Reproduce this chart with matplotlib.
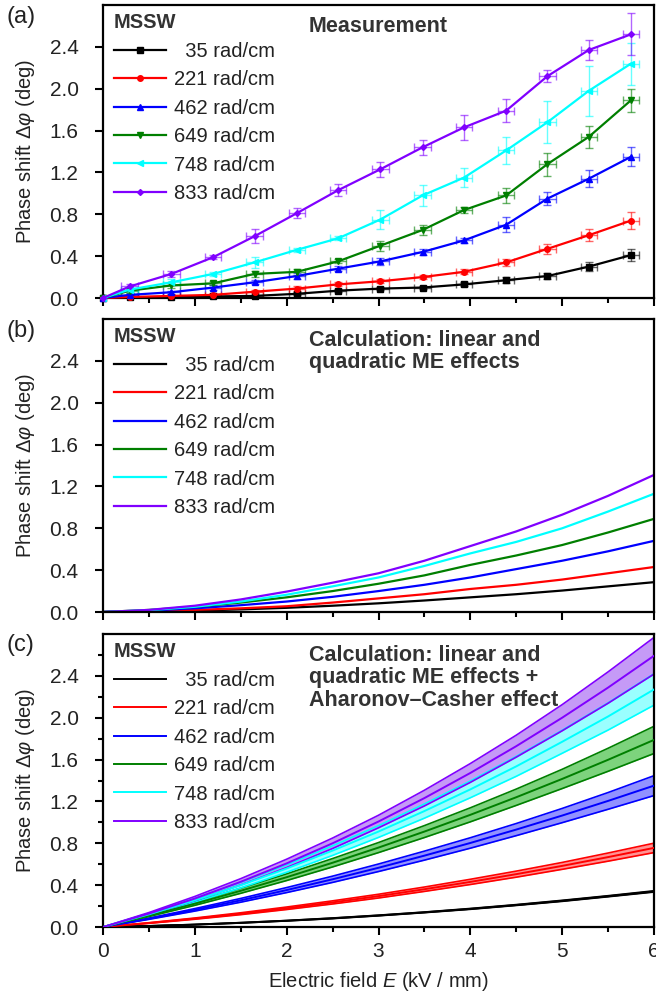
import matplotlib
matplotlib.use("Agg")
import matplotlib.pyplot as plt
import numpy as np

plt.rcParams['font.family'] = ['Liberation Sans', 'DejaVu Sans']
plt.rcParams['mathtext.fontset'] = 'custom'
plt.rcParams['mathtext.rm'] = 'Liberation Sans'
plt.rcParams['mathtext.it'] = 'Liberation Sans:italic'

# ---------------- data ----------------
labels = ["  35 rad/cm", "221 rad/cm", "462 rad/cm", "649 rad/cm", "748 rad/cm", "833 rad/cm"]
colors = ["#000000", "#ff0000", "#0000ff", "#007f00", "#00ffff", "#8000ff"]
fills = ["#808080", "#ff8080", "#7f7fff", "#66cc66", "#88ffff", "#bb88f5"]
markers = ["s", "o", "^", "v", "<", "D"]

# (a) measurement
E_meas = [0, 0.29, 0.745, 1.2, 1.65, 2.11, 2.56, 3.02, 3.48, 3.93, 4.39, 4.84, 5.29, 5.75]
meas_35 = [0, 0.005, 0.01, 0.015, 0.02, 0.04, 0.07, 0.09, 0.10, 0.13, 0.17, 0.21, 0.30, 0.41]
meas_221 = [0, 0.01, 0.02, 0.03, 0.06, 0.09, 0.13, 0.16, 0.20, 0.25, 0.34, 0.47, 0.60, 0.74]
meas_462 = [0, 0.03, 0.055, 0.10, 0.15, 0.21, 0.28, 0.35, 0.44, 0.55, 0.70, 0.95, 1.14, 1.35]
meas_649 = [0, 0.07, 0.12, 0.14, 0.23, 0.25, 0.35, 0.50, 0.65, 0.84, 0.98, 1.28, 1.54, 1.89]
meas_748 = [0, 0.08, 0.15, 0.23, 0.34, 0.46, 0.57, 0.75, 0.98, 1.15, 1.41, 1.68, 1.98, 2.24]
meas_833 = [0, 0.11, 0.23, 0.39, 0.59, 0.81, 1.03, 1.23, 1.44, 1.63, 1.79, 2.12, 2.37, 2.52]
err_35 = [0, 0.01, 0.01, 0.01, 0.01, 0.015, 0.015, 0.015, 0.015, 0.02, 0.03, 0.025, 0.04, 0.06]
err_221 = [0, 0.01, 0.01, 0.015, 0.015, 0.02, 0.02, 0.02, 0.02, 0.025, 0.03, 0.05, 0.055, 0.08]
err_462 = [0, 0.015, 0.015, 0.02, 0.02, 0.025, 0.025, 0.03, 0.03, 0.02, 0.07, 0.06, 0.08, 0.09]
err_649 = [0, 0.02, 0.02, 0.02, 0.03, 0.03, 0.02, 0.048, 0.048, 0.03, 0.07, 0.11, 0.107, 0.11]
err_748 = [0, 0.02, 0.03, 0.02, 0.056, 0.02, 0.02, 0.09, 0.10, 0.09, 0.13, 0.20, 0.24, 0.20]
err_833 = [0, 0.02, 0.03, 0.02, 0.067, 0.048, 0.056, 0.069, 0.072, 0.118, 0.11, 0.06, 0.10, 0.20]
xerr_meas = [0, 0.09, 0.09, 0.09, 0.09, 0.09, 0.09, 0.09, 0.09, 0.09, 0.09, 0.09, 0.09, 0.09]

# (b) calculation: linear + quadratic ME
E_calc = [0, 0.5, 1, 1.5, 2, 2.5, 3, 3.5, 4, 4.5, 5, 5.5, 6]
b_35 = [0, 0.005, 0.013, 0.025, 0.04, 0.06, 0.083, 0.11, 0.14, 0.17, 0.205, 0.245, 0.285]
b_221 = [0, 0.008, 0.02, 0.035, 0.055, 0.09, 0.13, 0.17, 0.22, 0.26, 0.31, 0.37, 0.43]
b_462 = [0, 0.013, 0.035, 0.065, 0.10, 0.145, 0.20, 0.26, 0.33, 0.41, 0.49, 0.58, 0.68]
b_649 = [0, 0.02, 0.05, 0.09, 0.14, 0.20, 0.27, 0.35, 0.45, 0.54, 0.64, 0.76, 0.89]
b_748 = [0, 0.017, 0.05, 0.10, 0.165, 0.245, 0.33, 0.44, 0.56, 0.67, 0.80, 0.96, 1.13]
b_833 = [0, 0.02, 0.06, 0.12, 0.195, 0.28, 0.37, 0.49, 0.63, 0.77, 0.93, 1.11, 1.31]

# (c) calculation incl. Aharonov-Casher: centre and half-width of band
c_35 = [0, 0.01, 0.023, 0.04, 0.06, 0.083, 0.11, 0.14, 0.173, 0.21, 0.25, 0.294, 0.34]
c_221 = [0, 0.038, 0.08, 0.127, 0.179, 0.235, 0.295, 0.361, 0.431, 0.505, 0.584, 0.668, 0.756]
c_462 = [0, 0.079, 0.164, 0.255, 0.353, 0.456, 0.566, 0.682, 0.803, 0.931, 1.065, 1.205, 1.351]
c_649 = [0, 0.108, 0.223, 0.346, 0.476, 0.614, 0.759, 0.912, 1.072, 1.24, 1.415, 1.598, 1.788]
c_748 = [0, 0.121, 0.255, 0.40, 0.559, 0.73, 0.912, 1.108, 1.315, 1.535, 1.77, 2.012, 2.27]
c_833 = [0, 0.128, 0.272, 0.432, 0.608, 0.80, 1.008, 1.232, 1.472, 1.728, 2.0, 2.288, 2.592]
hw_35 = [0, 0.001, 0.001, 0.002, 0.002, 0.003, 0.003, 0.003, 0.004, 0.004, 0.005, 0.005, 0.006]
hw_221 = [0, 0.003, 0.006, 0.009, 0.012, 0.015, 0.018, 0.021, 0.025, 0.029, 0.033, 0.039, 0.045]
hw_462 = [0, 0.006, 0.012, 0.018, 0.024, 0.03, 0.036, 0.043, 0.05, 0.058, 0.068, 0.08, 0.095]
hw_649 = [0, 0.008, 0.016, 0.024, 0.032, 0.04, 0.048, 0.057, 0.067, 0.078, 0.092, 0.11, 0.13]
hw_748 = [0, 0.01, 0.018, 0.027, 0.036, 0.046, 0.056, 0.068, 0.08, 0.095, 0.11, 0.13, 0.15]
hw_833 = [0, 0.01, 0.02, 0.03, 0.04, 0.05, 0.06, 0.075, 0.09, 0.105, 0.125, 0.15, 0.175]

meas = [meas_35, meas_221, meas_462, meas_649, meas_748, meas_833]
errs = [err_35, err_221, err_462, err_649, err_748, err_833]
calc_b = [b_35, b_221, b_462, b_649, b_748, b_833]
calc_c = [c_35, c_221, c_462, c_649, c_748, c_833]
half_c = [hw_35, hw_221, hw_462, hw_649, hw_748, hw_833]

ytick_vals = [0.0, 0.4, 0.8, 1.2, 1.6, 2.0, 2.4]
xtick_vals = [0, 1, 2, 3, 4, 5, 6]

# ---------------- figure ----------------
fig = plt.figure(figsize=(6.56, 9.96), dpi=100)
L, W = 103 / 656, 551 / 656
H = 293 / 996
axA = fig.add_axes([L, 1 - 298 / 996, W, H])
axB = fig.add_axes([L, 1 - 612 / 996, W, H])
axC = fig.add_axes([L, 1 - 927 / 996, W, H])

txtc = '#222222'
FS = 14.5
for ax in (axA, axB, axC):
    ax.set_xlim(0, 6)
    ax.set_ylim(0, 2.8)
    ax.set_xticks(xtick_vals)
    ax.set_xticks(np.arange(0.5, 6, 1.0), minor=True)
    ax.set_yticks(ytick_vals)
    ax.set_yticklabels([f"{v:.1f}" for v in ytick_vals])
    ax.tick_params(axis='both', which='major', direction='out', length=5.5, width=1.5,
                   labelsize=FS + 0.5, colors='black', labelcolor=txtc)
    ax.tick_params(axis='y', which='major', pad=12)
    ax.tick_params(axis='x', which='major', pad=5)
    ax.tick_params(axis='both', which='minor', direction='out', length=3.5, width=1.5)
    for s in ax.spines.values():
        s.set_linewidth(1.6)
    ax.set_ylabel(r'Phase shift $\Delta\varphi$ (deg)', fontsize=FS, color=txtc, labelpad=9)
axA.tick_params(labelbottom=False)
axB.tick_params(labelbottom=False)
axC.set_yticks(np.arange(0.2, 2.8, 0.4), minor=True)
axC.set_xticklabels([str(v) for v in xtick_vals])
axC.set_xlabel(r'Electric field $E$ (kV / mm)', fontsize=FS, color=txtc, labelpad=7)

# (a)
for y, e, c, m, lab in zip(meas, errs, colors, markers, labels):
    axA.errorbar(E_meas, y, yerr=e, xerr=xerr_meas, fmt='none', ecolor=c, alpha=0.6,
                 elinewidth=1.0, capsize=3, capthick=1.0, zorder=2)
    axA.plot(E_meas, y, color=c, lw=1.6, marker=m, ms=4 if m != 'D' else 3,
             label=lab, zorder=3, clip_on=False)

# (b)
for y, c, lab in zip(calc_b, colors, labels):
    axB.plot(E_calc, y, color=c, lw=1.6, label=lab)

# (c)
for y, hw, c, fc, lab in zip(calc_c, half_c, colors, fills, labels):
    y = np.array(y); hw = np.array(hw)
    axC.fill_between(E_calc, y - hw, y + hw, color=fc, alpha=0.85, lw=0, zorder=1)
    axC.plot(E_calc, y - hw, color=c, lw=1.2, zorder=2)
    axC.plot(E_calc, y + hw, color=c, lw=1.2, zorder=2)
    axC.plot(E_calc, y, color=c, lw=1.4, label=lab, zorder=3)

for ax in (axA, axB, axC):
    leg = ax.legend(title='MSSW', loc='upper left', bbox_to_anchor=(0.02, 0.972),
                    frameon=False, fontsize=FS, alignment='left',
                    title_fontproperties={'weight': 'bold', 'size': FS},
                    handlelength=2.6, handletextpad=0.4, labelspacing=0.47,
                    borderpad=0, borderaxespad=0)
    for t in leg.get_texts():
        t.set_color(txtc)
    leg.get_title().set_color('#333333')

annot_kw = dict(fontsize=15.5, fontweight='bold', color='#333333', va='top', ha='left',
                linespacing=1.08)
axA.text(0.373, 0.962, 'Measurement', transform=axA.transAxes, **annot_kw)
axB.text(0.373, 0.962, 'Calculation: linear and\nquadratic ME effects', transform=axB.transAxes, **annot_kw)
axC.text(0.373, 0.962, 'Calculation: linear and\nquadratic ME effects +\nAharonov\u2013Casher effect',
         transform=axC.transAxes, **annot_kw)

for lab, y in (('(a)', 17), ('(b)', 331), ('(c)', 645)):
    fig.text(7 / 656, 1 - y / 996, lab, fontsize=17, color=txtc, va='center', ha='left')

fig.savefig('out.png', dpi=100)
